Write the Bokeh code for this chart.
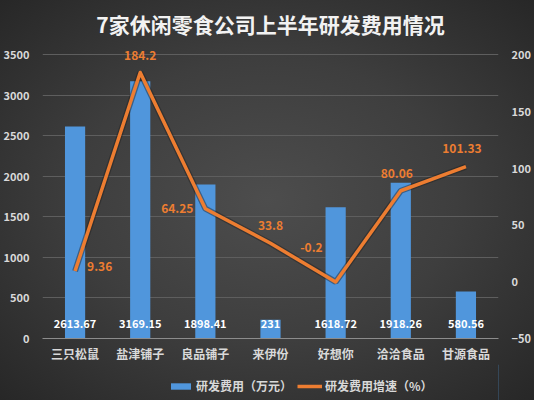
from bokeh.plotting import figure
from bokeh.layouts import column
from bokeh.models import (ColumnDataSource, Range1d, LinearAxis, FixedTicker,
                          Legend, LegendItem)
from bokeh.core.properties import value
from bokeh.embed import file_html
from bokeh.resources import INLINE

# ---- data ----
companies = ["三只松鼠", "盐津铺子", "良品铺子", "来伊份", "好想你", "洽洽食品", "甘源食品"]
rd_cost = [2613.67, 3169.15, 1898.41, 231, 1618.72, 1918.26, 580.56]
rd_growth = [9.36, 184.2, 64.25, 33.8, -0.2, 80.06, 101.33]
left_ticks = [0, 500, 1000, 1500, 2000, 2500, 3000, 3500]
right_ticks = [-50, 0, 50, 100, 150, 200]
series_names = ["研发费用（万元）", "研发费用增速（%）"]

# label placement (screen offsets, px) for growth labels
growth_dx = [12, 0, -12, 0, -13, -4, -4]
growth_dy = [-5, -17, 0, -18, -34, -17, -18]
growth_align = ["left", "center", "right", "center", "right", "center", "center"]

FONT = "Noto Sans CJK SC"
TXT = "#d9d9d9"
ORANGE = "#ed7d31"
BLUE = "#5096dc"

# headroom above the top gridline (fraction of axis span) so labels are not clipped
HEAD = 14 / 284

bar_src = ColumnDataSource(dict(
    x=companies, top=rd_cost, label=[f"{v:g}" for v in rd_cost],
    base=[0] * len(companies)))
line_src = ColumnDataSource(dict(
    x=companies, y=rd_growth, label=[f"{v:g}" for v in rd_growth],
    dx=growth_dx, dy=growth_dy, align=growth_align))

l0, l1 = left_ticks[0], left_ticks[-1]
r0, r1 = right_ticks[0], right_ticks[-1]
p = figure(x_range=companies, y_range=Range1d(l0, l1 + (l1 - l0) * HEAD),
           frame_width=456, frame_height=298,
           min_border_left=42, min_border_right=36,
           min_border_top=40, min_border_bottom=26,
           output_backend="svg", toolbar_location=None,
           title="7家休闲零食公司上半年研发费用情况")
p.background_fill_color = None
p.border_fill_color = None
p.outline_line_color = None

p.title.align = "center"
p.title.text_color = "#f2f2f2"
p.title.text_font = FONT
p.title.text_font_size = "21px"
p.title.text_font_style = "bold"
p.title.standoff = 4

p.extra_y_ranges = {"rate": Range1d(r0, r1 + (r1 - r0) * HEAD)}

# axes
p.yaxis.ticker = FixedTicker(ticks=left_ticks)
ax_r = LinearAxis(y_range_name="rate", ticker=FixedTicker(ticks=right_ticks))
p.add_layout(ax_r, "right")
for ax in [p.yaxis[0], ax_r]:
    ax.axis_line_color = None
    ax.major_tick_line_color = None
    ax.minor_tick_line_color = None
    ax.major_label_text_color = TXT
    ax.major_label_text_font = FONT
    ax.major_label_text_font_size = "11px"
    ax.major_label_text_font_style = "bold"
    ax.major_label_standoff = 7
p.xaxis.axis_line_color = "#8c8c8c"
p.xaxis.major_tick_line_color = None
p.xaxis.minor_tick_line_color = None
p.xaxis.major_label_text_color = TXT
p.xaxis.major_label_text_font = FONT
p.xaxis.major_label_text_font_size = "12px"
p.xaxis.major_label_text_font_style = "bold"
p.xaxis.major_label_standoff = 0

p.xgrid.grid_line_color = None
p.ygrid.grid_line_color = "#5e5e5e"
p.ygrid.grid_line_width = 1
p.x_range.range_padding = 0

# bars
p.vbar(x="x", top="top", width=0.31, source=bar_src,
       fill_color=BLUE, line_color=None)
p.text(x="x", y="base", text="label", source=bar_src, y_offset=-15,
       text_align="center", text_baseline="middle", text_color="#ffffff",
       text_font=value(FONT), text_font_size="11px", text_font_style="bold")

# line
p.line(x="x", y="y", source=line_src, y_range_name="rate",
       line_color="#1e1e1e", line_alpha=0.45, line_width=6)
p.line(x="x", y="y", source=line_src, y_range_name="rate",
       line_color=ORANGE, line_width=3.5, line_join="round")
p.text(x="x", y="y", text="label", source=line_src, y_range_name="rate",
       x_offset="dx", y_offset="dy", text_align="align",
       text_baseline="middle", text_color=ORANGE,
       text_font=value(FONT), text_font_size="12px", text_font_style="bold")

# ---- legend strip below the chart ----
lg = figure(width=534, height=36, x_range=Range1d(0, 1), y_range=Range1d(0, 1),
            x_axis_type=None, y_axis_type=None,
            min_border=0, output_backend="svg", toolbar_location=None)
lg.background_fill_color = None
lg.border_fill_color = None
lg.outline_line_color = None
lg.grid.grid_line_color = None
# key-only renderers: a single off-range point so the legend has a style to draw
key_src = ColumnDataSource(dict(x=[5], y=[5]))
key_bar = lg.vbar(x="x", top="y", width=0.1, source=key_src,
                  fill_color=BLUE, line_color=None)
key_line = lg.line(x="x", y="y", source=key_src, line_color=ORANGE, line_width=3.5)
legend = Legend(items=[LegendItem(label=series_names[0], renderers=[key_bar]),
                       LegendItem(label=series_names[1], renderers=[key_line])],
                orientation="horizontal", location=(126, 6),
                background_fill_alpha=0, border_line_color=None,
                label_text_color=TXT, label_text_font=FONT,
                label_text_font_size="12px", label_text_font_style="bold",
                glyph_width=25, glyph_height=8, spacing=5, label_standoff=3,
                label_height=14, padding=3, margin=0)
lg.add_layout(legend)

page = column(p, lg, spacing=0)
page.styles = {"background": "radial-gradient(ellipse at 50% 50%, #4d4d4d 0%, #3e3e3e 50%, #272727 100%)"}

open("out.html", "w").write(file_html(page, INLINE))
